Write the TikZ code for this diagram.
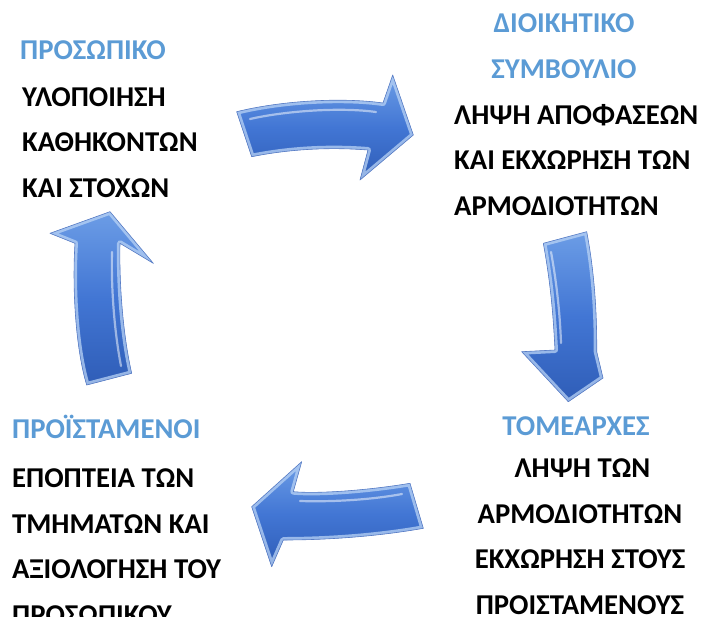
\documentclass[tikz,border=0pt]{standalone}
\usepackage{fontspec}
\setmainfont{Carlito}
\definecolor{titleblue}{HTML}{5B9BD5}
\definecolor{arrowtop}{HTML}{6C9DE6}
\definecolor{arrowmid}{HTML}{4276D4}
\definecolor{arrowbot}{HTML}{2F5DB7}
\definecolor{arrowedge}{HTML}{B9D3F5}
\tikzset{
  txt/.style={inner sep=0pt, font=\fontsize{28.7}{45.5}\selectfont\bfseries},
  ttl/.style={txt, text=titleblue},
  body/.style={txt, text=black},
  arrowfill/.style={top color=arrowtop, bottom color=arrowbot, middle color=arrowmid},
  bevel/.style={draw=arrowedge, line width=6pt, line join=round, opacity=0.75},
  rim/.style={draw=arrowbot!80!white, line width=0.6pt, line join=round},
  gloss/.style={white, opacity=0.5, line width=2.2pt, line cap=round}
}
\def\toparrow{(236.7,111.7) .. controls (280,101) and (340,97) .. (383,103)
  -- (392.7,75) -- (413.3,135) -- (360,180) -- (368,150)
  .. controls (330,147) and (290,149) .. (251.7,156.7) -- cycle}
\def\rightarrow{(543.3,243.3) -- (586.7,231.7)
  .. controls (594,270) and (597,310) .. (596.7,351.7)
  -- (603,378) -- (568.3,401.7) -- (521.7,351.7) -- (555,350)
  .. controls (553,310) and (550,280) .. (543.3,243.3) -- cycle}
\def\bottomarrow{(410,483.3) .. controls (370,490) and (320,494) .. (293.3,491.7)
  -- (301.7,461.7) -- (251.7,506.7) -- (271.7,566.7) -- (283.3,540)
  .. controls (330,540) and (380,536) .. (423.3,528.3) -- cycle}
\def\leftarrow{(86.7,385) .. controls (76,350) and (72,290) .. (75,243.3)
  -- (50,233.3) -- (110,211.7) -- (153.3,263.3) -- (120,243.3)
  .. controls (119,290) and (124,340) .. (131.7,373.3) -- cycle}
\begin{document}
\begin{tikzpicture}[x=1pt,y=-1pt]
\clip (0,0) rectangle (703,616);
\useasboundingbox (0,0) rectangle (703,616);
\fill[white] (0,0) rectangle (703,616);

% ---- arrows ----
\begin{scope}
  \clip \toparrow;
  \shade[arrowfill] \toparrow;
  \path[bevel] \toparrow;
  \draw[gloss] (250,119) .. controls (285,111) and (340,107) .. (376,112);
\end{scope}
\path[rim] \toparrow;

\begin{scope}
  \clip \rightarrow;
  \shade[arrowfill] \rightarrow;
  \path[bevel] \rightarrow;
  \draw[gloss] (551,252) .. controls (557,285) and (560,315) .. (561,343);
\end{scope}
\path[rim] \rightarrow;

\begin{scope}
  \clip \bottomarrow;
  \shade[arrowfill] \bottomarrow;
  \path[bevel] \bottomarrow;
  \draw[gloss] (402,494) .. controls (370,500) and (330,502) .. (300,501);
\end{scope}
\path[rim] \bottomarrow;

\begin{scope}
  \clip \leftarrow;
  \shade[arrowfill] \leftarrow;
  \path[bevel] \leftarrow;
  \draw[gloss] (112,252) .. controls (111,292) and (115,335) .. (121,366);
\end{scope}
\path[rim] \leftarrow;

% ---- texts (base anchor = baseline of the last line) ----
\node[ttl, anchor=base west] (t1) at (20,59) {ΠΡΟΣΩΠΙΚΟ};
\node[body, anchor=base west, align=left] (b1) at (22,197)
  {ΥΛΟΠΟΙΗΣΗ\\ΚΑΘΗΚΟΝΤΩΝ\\ΚΑΙ ΣΤΟΧΩΝ};

\node[ttl, anchor=base, align=center] (t2) at (564,78)
  {ΔΙΟΙΚΗΤΙΚΟ\\ΣΥΜΒΟΥΛΙΟ};
\node[body, anchor=base west, align=left] (b2) at (454,215)
  {ΛΗΨΗ ΑΠΟΦΑΣΕΩΝ\\ΚΑΙ ΕΚΧΩΡΗΣΗ ΤΩΝ\\ΑΡΜΟΔΙΟΤΗΤΩΝ};

\node[ttl, anchor=base] (t3) at (576,435) {ΤΟΜΕΑΡΧΕΣ};
\node[body, anchor=base, align=center] (b3) at (580,614)
  {\,ΛΗΨΗ ΤΩΝ\\ΑΡΜΟΔΙΟΤΗΤΩΝ\\ΕΚΧΩΡΗΣΗ ΣΤΟΥΣ\\ΠΡΟΙΣΤΑΜΕΝΟΥΣ};

\node[ttl, anchor=base west] (t4) at (12,438) {ΠΡΟΪΣΤΑΜΕΝΟΙ};
\node[body, anchor=base west, align=left] (b4) at (12,624)
  {ΕΠΟΠΤΕΙΑ ΤΩΝ\\ΤΜΗΜΑΤΩΝ ΚΑΙ\\ΑΞΙΟΛΟΓΗΣΗ ΤΟΥ\\ΠΡΟΣΩΠΙΚΟΥ};
\end{tikzpicture}
\end{document}
